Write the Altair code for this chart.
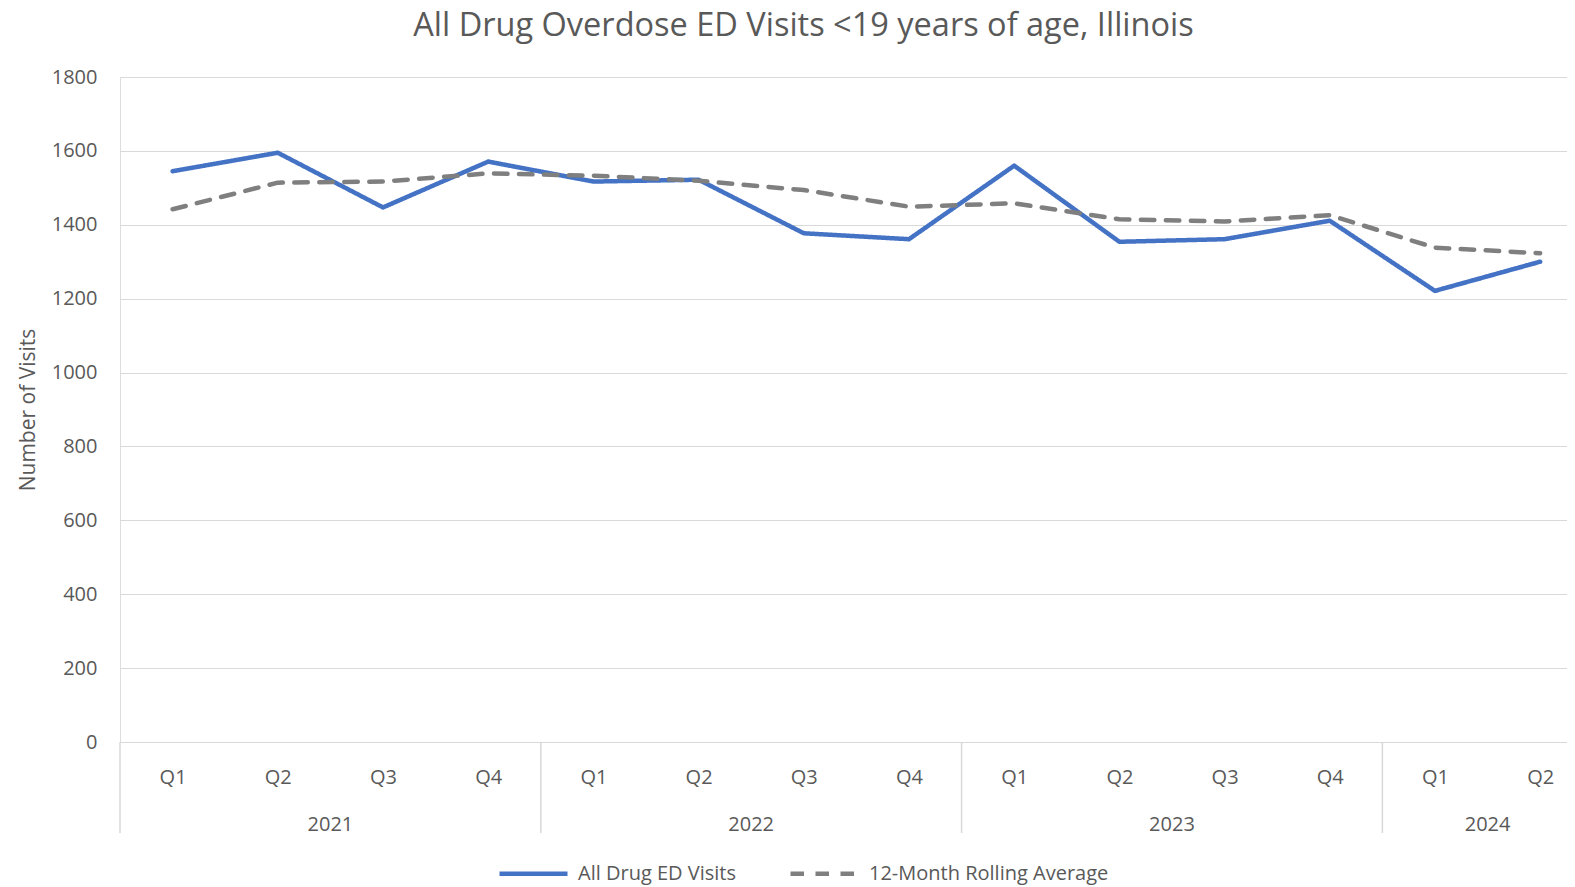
import json
import altair as alt
import pandas as pd

# ---- data ----
quarters = ["Q1", "Q2", "Q3", "Q4", "Q1", "Q2", "Q3", "Q4",
            "Q1", "Q2", "Q3", "Q4", "Q1", "Q2"]
years = [2021, 2021, 2021, 2021, 2022, 2022, 2022, 2022,
         2023, 2023, 2023, 2023, 2024, 2024]
visits = [1545, 1595, 1447, 1571, 1517, 1522, 1377, 1361,
          1560, 1354, 1361, 1411, 1221, 1300]
rolling = [1442, 1514, 1517, 1539, 1533, 1519, 1494, 1449,
           1458, 1415, 1409, 1426, 1338, 1323]
series_names = ["All Drug ED Visits", "12-Month Rolling Average"]
y_ticks = [0, 200, 400, 600, 800, 1000, 1200, 1400, 1600, 1800]

FONT = "Open Sans"
GREY = "#595959"
GRID = "#d9d9d9"
W, H = 1447, 665

idx = list(range(len(quarters)))
rows = []
for name, vals in zip(series_names, [visits, rolling]):
    for i, q, yr, v in zip(idx, quarters, years, vals):
        rows.append({"idx": i, "quarter": q, "year": yr, "series": name, "value": v})
df = pd.DataFrame(rows)

# year groups: center and left boundary in index units
ydf = pd.DataFrame({"idx": idx, "year": years})
grp = ydf.groupby("year")["idx"].agg(["min", "max"]).reset_index()
grp["center"] = (grp["min"] + grp["max"]) / 2
grp["left"] = grp["min"] - 0.5
grp["label"] = grp["year"].astype(str)

xscale = alt.Scale(domain=[-0.5, 13.255], nice=False, zero=False)

legend = alt.Legend(title=None, orient="none", legendX=377, legendY=760,
                    direction="horizontal", symbolType="stroke",
                    symbolSize=4624, symbolStrokeWidth=4.5,
                    labelFont=FONT, labelFontSize=20, labelColor=GREY,
                    labelLimit=500, labelOffset=8, columnPadding=45)

lines = alt.Chart(df).mark_line(strokeWidth=4.5, strokeCap="round", strokeJoin="round").encode(
    x=alt.X("idx:Q", scale=xscale, title=None,
            axis=alt.Axis(values=idx, labelExpr=json.dumps(quarters) + "[datum.value]",
                          grid=False, ticks=False, domain=True, domainColor=GRID,
                          domainWidth=1, labelFont=FONT, labelFontSize=20,
                          labelColor=GREY, labelPadding=25, labelFlush=False)),
    y=alt.Y("value:Q", scale=alt.Scale(domain=[0, 1800], nice=False),
            title="Number of Visits",
            axis=alt.Axis(values=y_ticks, format="d", grid=True, gridColor=GRID, gridWidth=1,
                          domain=False, ticks=False, labelFont=FONT, labelFontSize=20,
                          labelColor=GREY, labelPadding=23, titleFont=FONT,
                          titleFontSize=21, titleColor=GREY, titleFontWeight="normal",
                          titlePadding=13)),
    color=alt.Color("series:N", scale=alt.Scale(domain=series_names, range=["#4472C4", "#7F7F7F"]),
                    legend=legend),
    strokeDash=alt.StrokeDash("series:N", scale=alt.Scale(domain=series_names,
                                                          range=[[1, 0], [13.5, 11.5]]),
                              legend=legend),
)

seps = alt.Chart(grp).mark_rule(color=GRID, strokeWidth=1.5).encode(
    x=alt.X("left:Q", scale=xscale),
    y=alt.value(H),
    y2=alt.value(H + 91),
)

year_text = alt.Chart(grp).mark_text(font=FONT, fontSize=20, color=GREY, baseline="middle").encode(
    x=alt.X("center:Q", scale=xscale),
    y=alt.value(H + 83),
    text="label:N",
)

chart = alt.layer(seps, year_text, lines).properties(
    width=W, height=H,
    title=alt.TitleParams("All Drug Overdose ED Visits <19 years of age, Illinois",
                          font=FONT, fontSize=32.5, fontWeight="normal", color=GREY,
                          anchor="middle", dx=-40, offset=25),
    autosize=alt.AutoSizeParams(type="none"),
    padding={"left": 112, "top": 69, "right": 0, "bottom": 144},
).configure_view(stroke=None).configure(background="white")

chart.save("out.html", embed_options={"renderer": "svg", "actions": False})
